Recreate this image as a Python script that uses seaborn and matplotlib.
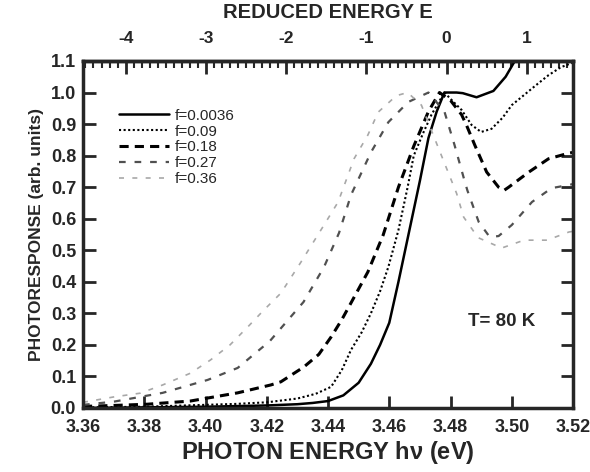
import numpy as np
import pandas as pd
import matplotlib
matplotlib.use("Agg")
import matplotlib.pyplot as plt
import seaborn as sns
from matplotlib.ticker import MultipleLocator, FormatStrFormatter

# ---- data ----
hv_0036 = [3.360, 3.380, 3.400, 3.420, 3.430, 3.435, 3.440, 3.445, 3.450, 3.454, 3.457, 3.460,
           3.463, 3.4665, 3.470, 3.4728, 3.4755, 3.478, 3.482, 3.484, 3.4885, 3.494, 3.498, 3.501, 3.503]
y_0036 = [0.000, 0.002, 0.004, 0.008, 0.012, 0.016, 0.022, 0.040, 0.080, 0.140, 0.200, 0.270,
          0.400, 0.560, 0.720, 0.856, 0.940, 1.000, 1.000, 0.998, 0.985, 1.005, 1.050, 1.100, 1.130]

hv_009 = [3.360, 3.380, 3.400, 3.410, 3.420, 3.430, 3.436, 3.441, 3.4445, 3.4475, 3.451, 3.454,
          3.457, 3.4597, 3.463, 3.466, 3.468, 3.471, 3.4738, 3.478, 3.481, 3.4836, 3.4869, 3.490,
          3.4934, 3.497, 3.500, 3.5075, 3.512, 3.516, 3.520]
y_009 = [0.002, 0.004, 0.010, 0.013, 0.018, 0.030, 0.045, 0.067, 0.120, 0.184, 0.240, 0.300,
         0.370, 0.447, 0.564, 0.700, 0.800, 0.870, 0.930, 1.000, 0.970, 0.945, 0.897, 0.875,
         0.885, 0.920, 0.960, 1.020, 1.055, 1.080, 1.095]

hv_018 = [3.360, 3.370, 3.381, 3.395, 3.4105, 3.4213, 3.4246, 3.4321, 3.437, 3.441, 3.4445,
          3.4475, 3.453, 3.458, 3.463, 3.468, 3.4728, 3.4764, 3.480, 3.4836, 3.4852, 3.4879,
          3.4918, 3.4957, 3.4975, 3.499, 3.5056, 3.512, 3.5187, 3.520]
y_018 = [0.005, 0.008, 0.012, 0.022, 0.048, 0.073, 0.083, 0.130, 0.170, 0.225, 0.280,
         0.333, 0.431, 0.548, 0.700, 0.830, 0.940, 1.000, 0.975, 0.930, 0.897, 0.834,
         0.748, 0.700, 0.690, 0.700, 0.748, 0.790, 0.808, 0.810]

hv_027 = [3.360, 3.370, 3.386, 3.4007, 3.4105, 3.421, 3.432, 3.4387, 3.4436, 3.4475, 3.454,
          3.4597, 3.4662, 3.4728, 3.478, 3.4813, 3.4843, 3.4855, 3.4892, 3.4928, 3.4957, 3.500,
          3.5066, 3.513, 3.5187, 3.520]
y_027 = [0.010, 0.020, 0.048, 0.089, 0.127, 0.212, 0.336, 0.447, 0.555, 0.675, 0.810,
         0.906, 0.970, 1.000, 0.940, 0.834, 0.730, 0.690, 0.590, 0.542, 0.545, 0.580,
         0.653, 0.697, 0.707, 0.710]

hv_036 = [3.360, 3.370, 3.3787, 3.386, 3.395, 3.4016, 3.408, 3.4138, 3.419, 3.4246, 3.431,
          3.4387, 3.4433, 3.4485, 3.453, 3.4564, 3.4623, 3.466, 3.4705, 3.4754, 3.4787, 3.482,
          3.4843, 3.489, 3.4967, 3.504, 3.5115, 3.5187, 3.520]
y_036 = [0.018, 0.035, 0.047, 0.073, 0.110, 0.152, 0.200, 0.257, 0.310, 0.364, 0.460,
         0.580, 0.653, 0.790, 0.865, 0.938, 0.990, 1.000, 0.960, 0.840, 0.760, 0.680,
         0.605, 0.540, 0.507, 0.532, 0.532, 0.558, 0.560]

labels = ["f=0.0036", "f=0.09", "f=0.18", "f=0.27", "f=0.36"]
x_ticks = [3.36, 3.38, 3.40, 3.42, 3.44, 3.46, 3.48, 3.50, 3.52]
top_ticks = [-4, -3, -2, -1, 0, 1]

E0 = 3.4787     # photon energy at reduced energy 0
GAMMA = 0.0262  # eV per reduced-energy unit

sns.set_style("ticks")
plt.rcParams["font.family"] = ["Liberation Sans", "DejaVu Sans"]
plt.rcParams["font.weight"] = "bold"
plt.rcParams["axes.unicode_minus"] = False
plt.rcParams["mathtext.fontset"] = "custom"
plt.rcParams["mathtext.rm"] = "Liberation Sans"
plt.rcParams["mathtext.it"] = "Liberation Sans"

fig = plt.figure(figsize=(5.9, 4.72), dpi=100)
ax = fig.add_axes([0.1407, 0.1356, 0.8305, 0.7352])

series = [(hv_0036, y_0036), (hv_009, y_009), (hv_018, y_018), (hv_027, y_027), (hv_036, y_036)]
styles = [
    dict(color="black", linestyle="-", linewidth=1.8),
    dict(color="black", linestyle=(0, (1, 1.2)), linewidth=1.5),
    dict(color="black", linestyle=(0, (3, 2)), linewidth=2.2),
    dict(color="#505050", linestyle=(0, (3, 4)), linewidth=1.6),
    dict(color="#a8a8a8", linestyle=(0, (3, 5)), linewidth=1.2),
]
for (hv, y), lab, st in zip(series, labels, styles):
    df = pd.DataFrame({"hv": hv, "y": y})
    sns.lineplot(data=df, x="hv", y="y", ax=ax, label=lab, sort=False, **st)

ax.set_xlim(3.36, 3.52)
ax.set_ylim(0, 1.1)
ax.set_xticks(x_ticks)
ax.xaxis.set_major_formatter(FormatStrFormatter("%.2f"))
ax.yaxis.set_major_locator(MultipleLocator(0.1))
ax.yaxis.set_major_formatter(FormatStrFormatter("%.1f"))
ax.tick_params(axis="x", direction="in", length=9, width=2, labelsize=13, pad=8)
ax.tick_params(axis="y", direction="in", length=9, width=2, labelsize=13, pad=5)
ax.tick_params(axis="y", right=True, left=True)
ax.tick_params(axis="x", top=False, bottom=True)
for sp in ax.spines.values():
    sp.set_visible(True)
    sp.set_linewidth(2.5)

ax.set_xlabel(r"PHOTON ENERGY $\mathregular{h\nu}$ (eV)", fontsize=17, fontweight="bold", labelpad=2)
ax.set_ylabel("PHOTORESPONSE (arb. units)", fontsize=12.5, fontweight="bold", labelpad=5)

sec = ax.secondary_xaxis("top", functions=(lambda x: (x - E0) / GAMMA, lambda e: e * GAMMA + E0))
sec.set_xticks(top_ticks)
sec.xaxis.set_minor_locator(MultipleLocator(0.1))
sec.tick_params(axis="x", which="major", direction="in", length=9, width=2, labelsize=12.5, pad=11)
sec.tick_params(axis="x", which="minor", direction="in", length=5, width=1.5)
sec.set_xlabel("REDUCED ENERGY E", fontsize=14.5, fontweight="bold", labelpad=9)
sec.spines["top"].set_linewidth(2.5)

ax.text(0.785, 0.248, "T= 80 K", transform=ax.transAxes, fontsize=13.5, fontweight="bold",
        va="center")

leg = ax.legend(loc="upper left", bbox_to_anchor=(0.06, 0.88), frameon=False,
                prop={"size": 11, "weight": "normal"},
                handlelength=3.3, handletextpad=0.35, labelspacing=0.12, borderaxespad=0)

fig.savefig("out.png", dpi=100)
